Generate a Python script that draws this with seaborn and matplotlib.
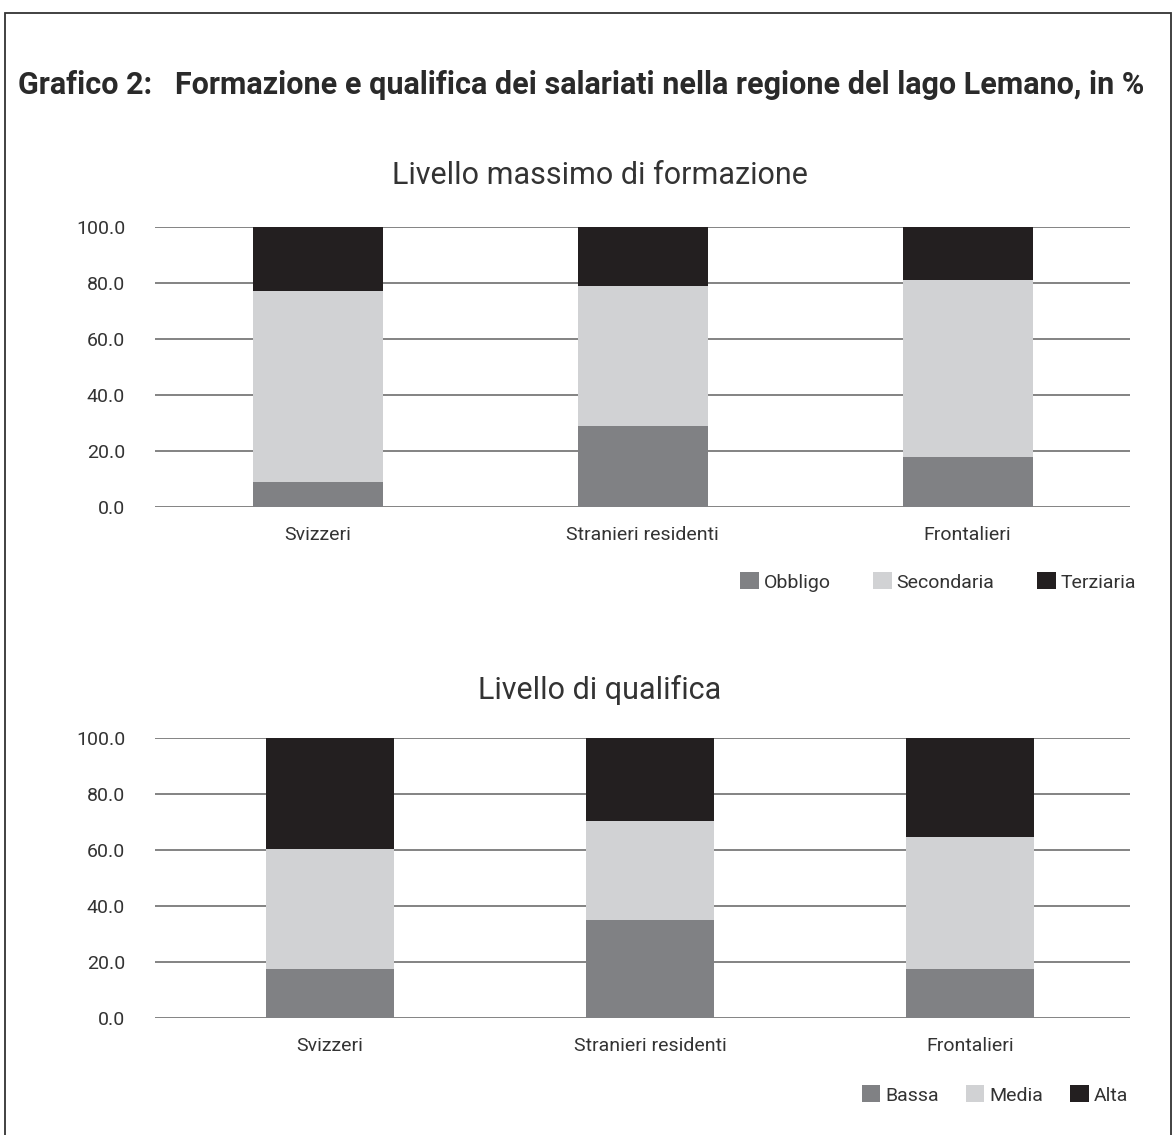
import matplotlib
matplotlib.use("Agg")
import matplotlib.pyplot as plt
import seaborn as sns
import pandas as pd
import numpy as np
from matplotlib.patches import Patch, Rectangle

categories = ["Svizzeri", "Stranieri residenti", "Frontalieri"]

# Livello massimo di formazione (%)
form_labels = ["Obbligo", "Secondaria", "Terziaria"]
obbligo = [9.0, 29.0, 18.0]
secondaria = [68.0, 50.0, 63.0]
terziaria = [23.0, 21.0, 19.0]

# Livello di qualifica (%)
qual_labels = ["Bassa", "Media", "Alta"]
bassa = [17.6, 35.0, 17.6]
media = [42.8, 35.2, 46.9]
alta = [39.6, 29.8, 35.5]

y_ticks = [0, 20, 40, 60, 80, 100]
y_ticklabels = ["0.0", "20.0", "40.0", "60.0", "80.0", "100.0"]

colors = ["#808184", "#d1d2d4", "#231f20"]

sns.set_theme(style="white")
plt.rcParams["font.family"] = ["Roboto", "DejaVu Sans"]
TXT = "#333333"

W, H = 1175, 1135
fig = plt.figure(figsize=(W / 100, H / 100), dpi=100)

# outer frame
fig.patches.append(Rectangle((5 / W, -0.01), (1171 - 5) / W, 1 - 13 / H + 0.01,
                             transform=fig.transFigure, fill=False,
                             edgecolor="#333333", linewidth=1.3))

fig.text(18 / W, 1 - 85 / H,
         "Grafico 2:   Formazione e qualifica dei salariati nella regione del lago Lemano, in %",
         fontsize=22, fontweight="bold", color="#2a2a2a", va="center", ha="left")


def stacked(ax, layers, labels, xlim, subtitle, sub_y, leg_anchor, colspacing):
    df = pd.DataFrame({"cat": categories})
    cum = np.zeros(len(categories))
    cums = []
    for vals in layers:
        cum = cum + np.array(vals)
        cums.append(cum.copy())
    for i in range(len(layers) - 1, -1, -1):
        df["v"] = cums[i]
        sns.barplot(data=df, x="cat", y="v", color=colors[i], saturation=1,
                    width=0.4, ax=ax, linewidth=0, edgecolor="none", zorder=3)
    ax.set_ylim(0, 100)
    ax.set_xlim(*xlim)
    ax.set_yticks(y_ticks)
    ax.set_yticklabels(y_ticklabels)
    ax.yaxis.grid(True, color="#7a7a7a", linewidth=1.3, zorder=0)
    ax.set_axisbelow(True)
    for s in ax.spines.values():
        s.set_visible(False)
    ax.tick_params(axis="y", length=0, pad=21.5, labelsize=14, labelcolor=TXT)
    ax.tick_params(axis="x", length=0, pad=14, labelsize=14, labelcolor=TXT)
    ax.set_xlabel("")
    ax.set_ylabel("")
    fig.text(600 / W, 1 - sub_y / H, subtitle, fontsize=22, color=TXT,
             ha="center", va="center")
    handles = [Patch(facecolor=c, edgecolor="none") for c in colors]
    fig.legend(handles, labels, ncol=3, loc="center right",
               bbox_to_anchor=leg_anchor, frameon=False, fontsize=14,
               labelcolor=TXT, handlelength=0.95, handleheight=0.95,
               handletextpad=0.25, columnspacing=colspacing,
               borderaxespad=0, borderpad=0)


ax1 = fig.add_axes([155 / W, 1 - 507 / H, 975 / W, 280 / H])
stacked(ax1, [obbligo, secondaria, terziaria], form_labels,
        (-0.5, 2.5), "Livello massimo di formazione", 176,
        (1136 / W, 1 - 582 / H), 2.2)

ax2 = fig.add_axes([155 / W, 1 - 1018 / H, 975 / W, 280 / H])
stacked(ax2, [bassa, media, alta], qual_labels,
        (-0.547, 2.5), "Livello di qualifica", 690,
        (1128 / W, 1 - 1095 / H), 1.4)

fig.savefig("out.png", dpi=100)
